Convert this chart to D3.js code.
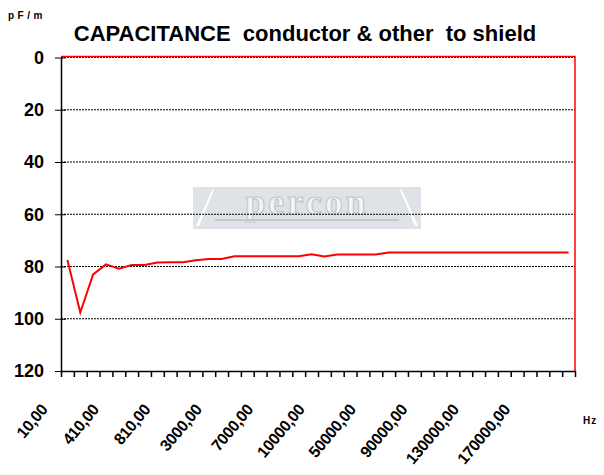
<!DOCTYPE html>
<html>
<head>
<meta charset="utf-8">
<script src="https://cdn.jsdelivr.net/npm/d3@7"></script>
<style>
  body { margin: 0; background: #fff; }
  svg { display: block; font-family: "Liberation Sans", Arial, sans-serif; }
</style>
</head>
<body>
<svg width="604" height="475"></svg>
<script>
// frequencies (Hz) - one per category, only every 4th gets a label
var frequencies = [10, 110, 210, 310, 410, 510, 610, 710, 810, 910,
  1000, 2000, 3000, 4000, 5000, 6000, 7000, 8000, 9000, 9500,
  10000, 20000, 30000, 40000, 50000, 60000, 70000, 80000, 90000, 100000,
  110000, 120000, 130000, 140000, 150000, 160000, 170000, 180000, 190000, 200000];

// capacitance pF/m
var capacitance = [77.5, 97.6, 83, 79.2, 80.8, 79.4, 79.4, 78.5, 78.4, 78.4,
  77.6, 77.1, 77.1, 76.1, 76.1, 76.1, 76.1, 76.1, 76.1, 75.3,
  76.2, 75.4, 75.4, 75.4, 75.4, 74.6, 74.6, 74.6, 74.6, 74.6,
  74.6, 74.6, 74.6, 74.6, 74.6, 74.6, 74.6, 74.6, 74.6, 74.6];

var yTicks = [0, 20, 40, 60, 80, 100, 120];

var plotLeft = 61, plotRight = 575, plotTop = 57.5, plotBottom = 371;

var svg = d3.select('svg');

var xScale = d3.scaleBand()
  .domain(d3.range(frequencies.length))
  .range([plotLeft, plotRight]);

var xEdge = d3.scaleLinear()
  .domain([0, frequencies.length])
  .range([plotLeft, plotRight]);

var yScale = d3.scaleLinear()
  .domain([0, 120])
  .range([plotTop, plotBottom]);

// watermark logo
var logo = svg.append('g');
logo.append('rect')
  .attr('x', 193).attr('y', 187)
  .attr('width', 228).attr('height', 42)
  .attr('fill', '#dfe2e6');
logo.append('path')
  .attr('d', 'M196,226 L212,190 L214,190 L199,226 Z M418,226 L402,190 L400,190 L415,226 Z')
  .attr('fill', '#fff');
logo.append('text')
  .attr('x', 307).attr('y', 214)
  .attr('text-anchor', 'middle')
  .attr('font-family', 'Liberation Serif, serif')
  .attr('font-weight', 'bold')
  .attr('font-size', 36)
  .attr('letter-spacing', 3)
  .attr('fill', '#f4f5f7')
  .attr('stroke', '#c4c8ce')
  .attr('stroke-width', 1.2)
  .text('percon');
logo.append('rect')
  .attr('x', 215).attr('y', 219)
  .attr('width', 184).attr('height', 2)
  .attr('fill', '#c4c8ce');

// gridlines
svg.append('g')
  .selectAll('line')
  .data(yTicks.slice(0, -1))
  .enter()
  .append('line')
  .attr('x1', plotLeft)
  .attr('x2', plotRight)
  .attr('y1', d => yScale(d))
  .attr('y2', d => yScale(d))
  .attr('stroke', '#000')
  .attr('stroke-dasharray', '2,1');

// plot border (red) top and right
svg.append('path')
  .attr('d', 'M' + plotLeft + ',' + (plotTop - 1) + 'H' + plotRight + 'V' + plotBottom)
  .attr('fill', 'none')
  .attr('stroke', '#ff0000')
  .attr('stroke-width', 1.5);

// x axis: ticks on category edges
var xAxis = d3.axisBottom(xEdge)
  .tickValues(d3.range(frequencies.length + 1))
  .tickFormat('')
  .tickSize(6)
  .tickSizeOuter(0);

svg.append('g')
  .attr('transform', 'translate(0,' + plotBottom + ')')
  .call(xAxis)
  .call(g => g.select('.domain').attr('stroke-width', 1.5))
  .call(g => g.selectAll('.tick line').attr('stroke-width', 1.5));

var yAxis = d3.axisLeft(yScale)
  .tickValues(yTicks)
  .tickSize(6)
  .tickSizeOuter(0)
  .tickPadding(11);

svg.append('g')
  .attr('transform', 'translate(' + plotLeft + ',0)')
  .call(yAxis)
  .call(g => g.select('.domain').attr('stroke-width', 1.5))
  .call(g => g.selectAll('.tick line').attr('x2', 5).attr('x1', -6))
  .call(g => g.selectAll('.tick text')
    .attr('font-family', 'Liberation Sans, Arial, sans-serif')
    .attr('font-size', 18)
    .attr('font-weight', 'bold')
    .attr('fill', '#000'));

// x labels, every 4th category
svg.append('g')
  .selectAll('text')
  .data(d3.range(0, frequencies.length, 4))
  .enter()
  .append('text')
  .attr('transform', d => 'translate(' + (xScale(d) + xScale.bandwidth() / 2 - 19) + ',' + 410 + ') rotate(-50)')
  .attr('text-anchor', 'end')
  .attr('font-size', 16)
  .attr('font-weight', 'bold')
  .attr('letter-spacing', -0.4)
  .text(d => frequencies[d].toFixed(2).replace('.', ','));

// data line
var line = d3.line()
  .x((d, i) => xScale(i) + xScale.bandwidth() / 2)
  .y(d => yScale(d));

svg.append('path')
  .datum(capacitance)
  .attr('d', line)
  .attr('fill', 'none')
  .attr('stroke', '#ff0000')
  .attr('stroke-width', 2);

// title and units
svg.append('text')
  .attr('x', 305)
  .attr('y', 41)
  .attr('text-anchor', 'middle')
  .attr('font-size', 22)
  .attr('font-weight', 'bold')
  .style('white-space', 'pre')
  .text('CAPACITANCE  conductor & other  to shield');

svg.append('text')
  .attr('x', 8)
  .attr('y', 19)
  .attr('font-size', 10)
  .attr('font-weight', 'bold')
  .attr('letter-spacing', 3.5)
  .text('pF/m');

svg.append('text')
  .attr('x', 583)
  .attr('y', 424)
  .attr('font-size', 10)
  .attr('font-weight', 'bold')
  .attr('letter-spacing', 1)
  .text('Hz');
</script>
</body>
</html>
